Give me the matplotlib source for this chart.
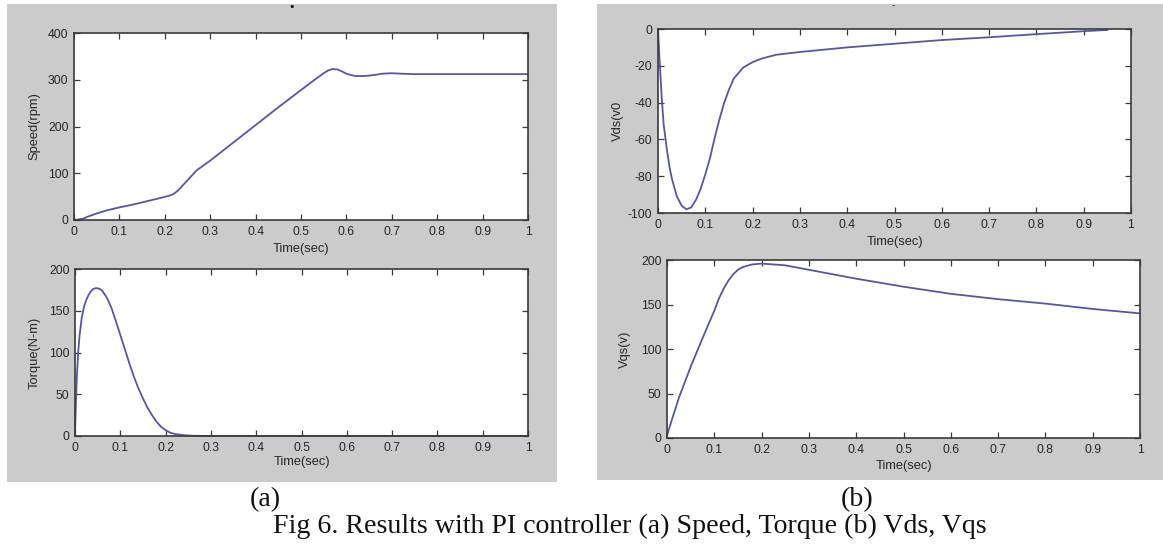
import matplotlib
matplotlib.use("Agg")
import matplotlib.pyplot as plt
from matplotlib import font_manager as fm
from matplotlib.patches import Rectangle

plt.rcParams["axes.unicode_minus"] = False

# ---------------- data ----------------
speed_t = [0, 0.01, 0.02, 0.03, 0.05, 0.07, 0.1, 0.13, 0.16, 0.19, 0.21, 0.22, 0.23, 0.25,
           0.27, 0.3, 0.35, 0.4, 0.45, 0.5, 0.53, 0.55, 0.56, 0.57, 0.58, 0.59, 0.6, 0.61,
           0.62, 0.64, 0.66, 0.68, 0.7, 0.72, 0.75, 0.8, 0.9, 1.0]
speed_v = [0, 1, 3, 7, 14, 20, 27, 33, 40, 47, 52, 56, 64, 85,
           106, 127, 165, 203, 241, 278, 300, 314, 320, 323, 322, 318, 313, 310,
           308, 308, 310, 313, 314, 313, 312, 312, 312, 312]

torque_t = [0, 0.002, 0.004, 0.007, 0.01, 0.015, 0.02, 0.025, 0.03, 0.035, 0.04, 0.045,
            0.05, 0.055, 0.06, 0.07, 0.08, 0.09,
            0.1, 0.11, 0.12, 0.13, 0.14, 0.15, 0.16, 0.17, 0.18, 0.19, 0.2, 0.21, 0.22,
            0.24, 0.26, 0.3, 0.5, 1.0]
torque_v = [0, 40, 70, 100, 120, 142, 155, 163, 169, 173, 176, 177,
            177, 176, 174, 166, 154, 138,
            121, 104, 87, 71, 57, 45, 34, 25, 17, 11, 7, 4, 2.5,
            1, 0.3, 0, 0, 0]

vds_t = [0, 0.003, 0.008, 0.012, 0.019, 0.025, 0.03, 0.04, 0.05, 0.06, 0.07, 0.08, 0.09,
         0.1, 0.11, 0.12, 0.13, 0.14, 0.15, 0.16, 0.17, 0.18, 0.2, 0.22, 0.25, 0.3, 0.4,
         0.5, 0.6, 0.7, 0.8, 0.9, 0.95]
vds_v = [0, -15, -38, -52, -66, -76, -82, -91, -96, -98, -97, -93, -87,
         -79, -70, -59, -49, -40, -33, -27, -24, -21, -18, -16, -14, -12.5, -10,
         -8, -6, -4.5, -2.8, -1.2, -0.5]

vqs_t = [0, 0.01, 0.025, 0.05, 0.075, 0.1, 0.11, 0.12, 0.13, 0.14, 0.15, 0.16, 0.18, 0.2,
         0.25, 0.3, 0.4, 0.5, 0.6, 0.7, 0.8, 0.9, 1.0]
vqs_v = [3, 20, 45, 80, 112, 143, 157, 168, 177, 184, 189, 192, 195, 196,
         194, 189, 179, 170, 162, 156, 151, 145, 140]

x_ticks = [0, 0.1, 0.2, 0.3, 0.4, 0.5, 0.6, 0.7, 0.8, 0.9, 1.0]
x_ticklabels = ["0", "0.1", "0.2", "0.3", "0.4", "0.5", "0.6", "0.7", "0.8", "0.9", "1"]
speed_yticks = [0, 100, 200, 300, 400]
torque_yticks = [0, 50, 100, 150, 200]
vds_yticks = [-100, -80, -60, -40, -20, 0]
vqs_yticks = [0, 50, 100, 150, 200]

xlabel = "Time(sec)"
caption = "Fig 6. Results with PI controller (a) Speed, Torque (b) Vds, Vqs"

# ---------------- style ----------------
W, H = 1163, 544
DPI = 100
names = {f.name for f in fm.fontManager.ttflist}
SANS = "Liberation Sans" if "Liberation Sans" in names else "DejaVu Sans"
SERIF = "Liberation Serif" if "Liberation Serif" in names else "DejaVu Serif"

LINE = "#5656a4"
GRAY = "#cbcbcb"
SPINE = "#3a3a3a"
TXT = "#262626"

fig = plt.figure(figsize=(W / DPI, H / DPI), dpi=DPI)
fig.patch.set_facecolor("white")

# gray panel backgrounds (pixel boxes: x0, y0(top), x1, y1(bottom))
for (x0, y0, x1, y1) in [(7, 4, 557, 482), (597, 4, 1163, 480)]:
    fig.patches.append(Rectangle((x0 / W, 1 - y1 / H), (x1 - x0) / W, (y1 - y0) / H,
                                 transform=fig.transFigure, facecolor=GRAY,
                                 edgecolor="none", zorder=-10))


def make_ax(l, r, t, b):
    ax = fig.add_axes([l / W, 1 - b / H, (r - l) / W, (b - t) / H])
    ax.set_zorder(5)
    return ax


def style(ax, yticks, ylabel, xlab_pad, ylab_x):
    ax.set_facecolor("white")
    ax.set_xlim(0, 1)
    ax.set_xticks(x_ticks)
    ax.set_xticklabels(x_ticklabels)
    ax.set_yticks(yticks)
    ax.set_ylim(yticks[0], yticks[-1])
    for s in ax.spines.values():
        s.set_color(SPINE)
        s.set_linewidth(1.2)
    ax.tick_params(direction="in", length=4, width=0.9, colors=SPINE,
                   top=True, right=True, labelsize=8.8, labelcolor=TXT, pad=4)
    for lab in ax.get_xticklabels() + ax.get_yticklabels():
        lab.set_family(SANS)
    ax.set_xlabel(xlabel, fontsize=9.3, family=SANS, color=TXT, labelpad=xlab_pad)
    ax.set_ylabel(ylabel, fontsize=9.3, family=SANS, color=TXT)
    ax.yaxis.set_label_coords(ylab_x, 0.5)


ax1 = make_ax(74, 528, 33, 220)
ax1.plot(speed_t, speed_v, color=LINE, lw=1.3)
style(ax1, speed_yticks, "Speed(rpm)", 4, -0.075)

ax2 = make_ax(75, 528, 269, 436)
ax2.plot(torque_t, torque_v, color=LINE, lw=1.3, clip_on=False)
style(ax2, torque_yticks, "Torque(N-m)", 2, -0.075)

ax3 = make_ax(658, 1131, 29, 213)
ax3.plot(vds_t, vds_v, color=LINE, lw=1.3, clip_on=False)
style(ax3, vds_yticks, "Vds(v0", 4, -0.073)

ax4 = make_ax(667, 1140, 260, 438)
ax4.plot(vqs_t, vqs_v, color=LINE, lw=1.3, clip_on=False)
style(ax4, vqs_yticks, "Vqs(v)", 3, -0.076)

# small marks above the panels
fig.text(292 / W, 1 - 7 / H, "\u2022", ha="center", va="center", fontsize=8, color="#111111")
fig.text(893 / W, 1 - 5 / H, "-", ha="center", va="center", fontsize=7, color="#333333")

# caption
cap_fs = 20
t_cap = fig.text(630 / W, 1 - 526 / H, caption, ha="center", va="center",
                 family=SERIF, fontsize=cap_fs, color="#111111")
fig.canvas.draw()
wpx = t_cap.get_window_extent().width
target = 987 - 273
cap_fs = cap_fs * target / wpx
t_cap.set_fontsize(cap_fs)

fig.text(265 / W, 1 - 500 / H, "(a)", ha="center", va="center", family=SERIF,
         fontsize=cap_fs, color="#111111")
fig.text(857 / W, 1 - 500 / H, "(b)", ha="center", va="center", family=SERIF,
         fontsize=cap_fs, color="#111111")

fig.savefig("out.png", dpi=DPI, facecolor="white")
